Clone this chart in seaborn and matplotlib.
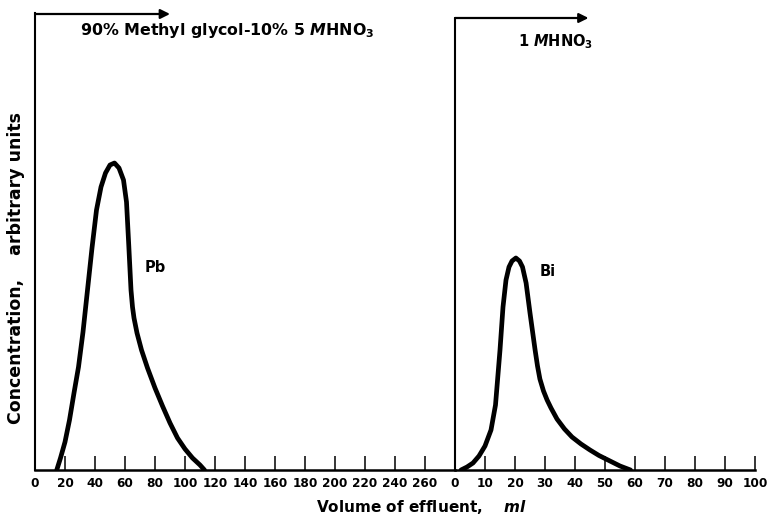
import numpy as np
import pandas as pd
import matplotlib
matplotlib.use("Agg")
import matplotlib.pyplot as plt
import seaborn as sns

# ---- data ----
pb_volume = [14.5, 17, 20, 23, 26, 29, 32, 35, 38, 41, 44, 47, 50, 53, 56, 59, 61,
             62.5, 64, 65, 66, 68, 71, 75, 80, 85, 90, 95, 100, 105, 110, 113]
pb_conc = [0, 12, 28, 50, 77, 103, 138, 180, 222, 260, 283, 297, 305, 307, 302, 290, 268,
           225, 180, 163, 152, 137, 120, 102, 82, 64, 47, 32, 21, 12, 5, 0]

bi_volume = [2, 4, 6, 8, 10, 12, 13.5, 15, 16, 17, 18, 19, 20.3, 21.5, 22.5, 23.7, 25,
             26.7, 27.5, 28.3, 29.5, 30.7, 32, 34, 36.5, 39, 42, 45, 48, 51, 55, 58.5]
bi_conc = [0, 3, 7, 14, 24, 40, 65, 120, 163, 190, 203, 209, 212, 209, 203, 187, 157,
           120, 104, 91, 79, 70, 62, 51, 41, 33, 26, 20, 14.5, 10, 4, 0]

left_ticks = list(range(0, 261, 20))
left_ticklabels = [str(t) for t in left_ticks]
right_ticks = list(range(0, 101, 10))
right_ticklabels = [str(t) for t in right_ticks]

eluent_1 = r"90% Methyl glycol-10% 5 $\mathbf{\mathit{M}}$HNO$_\mathbf{3}$"
eluent_2 = r"1 $\mathbf{\mathit{M}}$HNO$_\mathbf{3}$"

# ---- style ----
sns.set_theme(style="white")
plt.rcParams["font.family"] = ["DejaVu Sans"]
plt.rcParams["mathtext.fontset"] = "dejavusans"
plt.rcParams["font.weight"] = "bold"
plt.rcParams["text.color"] = "black"
plt.rcParams["xtick.color"] = "black"

W, H = 768, 518
fig = plt.figure(figsize=(W / 100, H / 100), dpi=100)
fig.patch.set_facecolor("white")

ymax = 457
axL = fig.add_axes([35 / W, 48 / H, 420 / W, ymax / H])
axR = fig.add_axes([455 / W, 48 / H, 300 / W, ymax / H])

df_pb = pd.DataFrame({"volume": pb_volume, "conc": pb_conc})
df_bi = pd.DataFrame({"volume": bi_volume, "conc": bi_conc})

sns.lineplot(data=df_pb, x="volume", y="conc", ax=axL, color="black", lw=3.4,
             sort=False, solid_capstyle="round", solid_joinstyle="round")
sns.lineplot(data=df_bi, x="volume", y="conc", ax=axR, color="black", lw=3.4,
             sort=False, solid_capstyle="round", solid_joinstyle="round")

for ax, lim, ticks, labels in [(axL, (0, 280), left_ticks, left_ticklabels),
                               (axR, (0, 100), right_ticks, right_ticklabels)]:
    ax.set_xlim(*lim)
    ax.set_ylim(0, ymax)
    ax.set_xticks(ticks)
    ax.set_xticklabels(labels, fontsize=8.7, fontweight="bold", color="black")
    ax.set_yticks([])
    ax.set_xlabel("")
    ax.set_ylabel("")
    ax.patch.set_alpha(0)
    for s in ["top", "right"]:
        ax.spines[s].set_visible(False)
    ax.spines["left"].set_linewidth(1.5)
    ax.spines["bottom"].set_linewidth(1.8)
    ax.spines["left"].set_color("black")
    ax.spines["bottom"].set_color("black")
    ax.tick_params(axis="x", direction="in", length=10, width=1.1, pad=5,
                   colors="black", bottom=True)

# peak labels
axL.text(80, 202, "Pb", fontsize=10.5, fontweight="bold", ha="center", va="center",
         color="black")
axR.text(31, 198, "Bi", fontsize=10.5, fontweight="bold", ha="center", va="center",
         color="black")

# eluent arrows
arrow_kw = dict(arrowstyle="-|>", lw=1.6, color="black", mutation_scale=14,
                shrinkA=0, shrinkB=0)
axL.annotate("", xy=(90, ymax - 1), xytext=(0, ymax - 1), xycoords="data",
             arrowprops=arrow_kw, annotation_clip=False)
axR.annotate("", xy=(44.5, ymax - 5), xytext=(0, ymax - 5), xycoords="data",
             arrowprops=arrow_kw, annotation_clip=False)
axR.plot([0, 0], [0, ymax - 5], color="black", lw=1.5, clip_on=False)
axR.spines["left"].set_visible(False)

fig.text(80 / W, 1 - 31 / H, eluent_1, fontsize=11.4, fontweight="bold",
         ha="left", va="center", color="black")
fig.text(518 / W, 1 - 42 / H, eluent_2, fontsize=10.5, fontweight="bold",
         ha="left", va="center", color="black")

# axis titles
fig.text(16 / W, 1 - 268 / H, "Concentration,    arbitrary units", rotation=90,
         fontsize=12.5, fontweight="bold", ha="center", va="center", color="black")
fig.text(421 / W, 1 - 507 / H, r"Volume of effluent,    $\mathbf{\mathit{ml}}$",
         fontsize=11, fontweight="bold", ha="center", va="center", color="black")

fig.savefig("out.png", dpi=100, facecolor="white")
